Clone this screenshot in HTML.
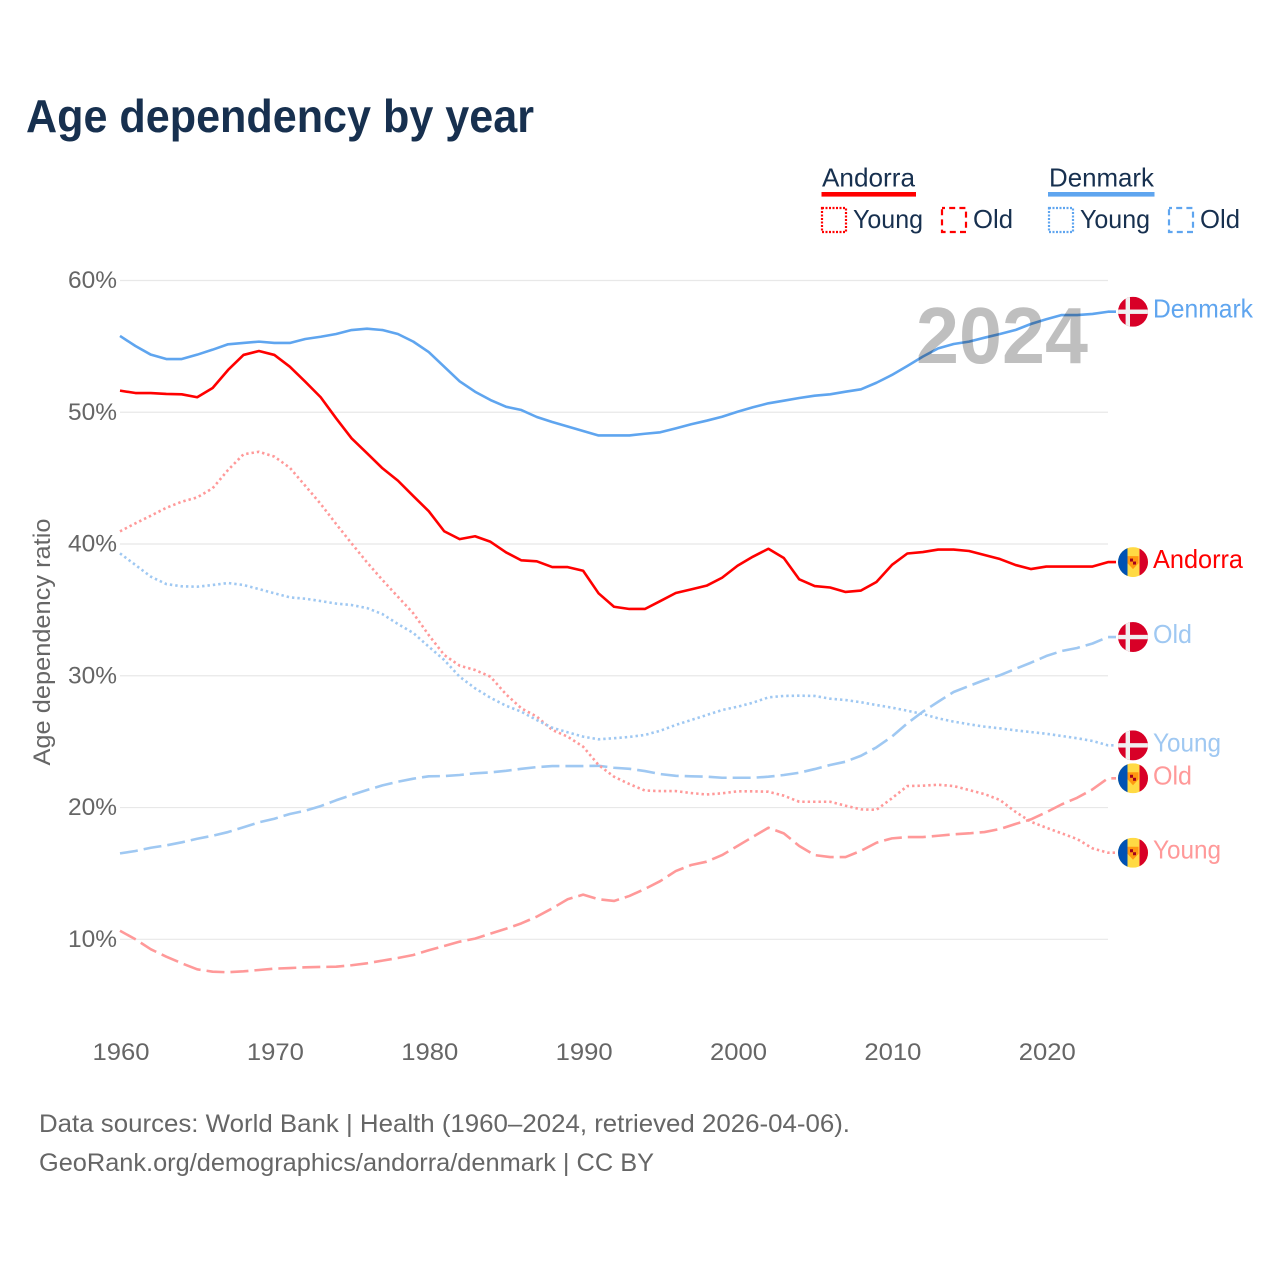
<!DOCTYPE html>
<html lang="en">
<head>
<meta charset="utf-8">
<title>Age dependency by year</title>
<style>
html,body{margin:0;padding:0;background:#fff;width:1280px;height:1280px;overflow:hidden}
svg{display:block}
text{font-family:"Liberation Sans",sans-serif}
</style>
</head>
<body>
<svg id="chart" xmlns="http://www.w3.org/2000/svg" width="1280" height="1280" viewBox="0 0 1280 1280">
  <rect width="1280" height="1280" fill="#fff"/>
  <text x="26" y="132" font-size="46" font-weight="700" fill="#17304f" textLength="508" lengthAdjust="spacingAndGlyphs">Age dependency by year</text>

  <g>
    <text x="822" y="186.5" font-size="26" fill="#17304f" textLength="93" lengthAdjust="spacingAndGlyphs">Andorra</text>
    <rect x="821.5" y="192" width="94.5" height="4.6" fill="#ff0000"/>
    <rect x="822" y="208" width="24" height="24" fill="none" stroke="#ff0000" stroke-width="2.2" stroke-dasharray="2 1.5"/>
    <text x="853" y="228" font-size="26" fill="#17304f" textLength="70" lengthAdjust="spacingAndGlyphs">Young</text>
    <rect x="942" y="208" width="24" height="24" fill="none" stroke="#ff0000" stroke-width="2.2" stroke-dasharray="6 4.2" stroke-dashoffset="3"/>
    <text x="973" y="228" font-size="26" fill="#17304f" textLength="40" lengthAdjust="spacingAndGlyphs">Old</text>
    <text x="1049" y="186.5" font-size="26" fill="#17304f" textLength="105" lengthAdjust="spacingAndGlyphs">Denmark</text>
    <rect x="1048" y="192" width="106.5" height="4.6" fill="#5fa5ef"/>
    <rect x="1049" y="208" width="24" height="24" fill="none" stroke="#5fa5ef" stroke-width="2.2" stroke-dasharray="2 1.5"/>
    <text x="1080" y="228" font-size="26" fill="#17304f" textLength="70" lengthAdjust="spacingAndGlyphs">Young</text>
    <rect x="1169" y="208" width="24" height="24" fill="none" stroke="#5fa5ef" stroke-width="2.2" stroke-dasharray="6 4.2" stroke-dashoffset="3"/>
    <text x="1200" y="228" font-size="26" fill="#17304f" textLength="40" lengthAdjust="spacingAndGlyphs">Old</text>
  </g>

  <g id="grid"></g>
  <g id="yticks"></g>
  <g id="xticks"></g>
  <text transform="translate(50,642) rotate(-90)" text-anchor="middle" font-size="24" fill="#666" textLength="247" lengthAdjust="spacingAndGlyphs">Age dependency ratio</text>

  <g id="series"></g>
  <g id="endlabels"></g>

  <text x="916" y="363" font-size="80" font-weight="700" fill="#000" fill-opacity="0.25" textLength="172" lengthAdjust="spacingAndGlyphs">2024</text>

  <text x="39" y="1132" font-size="25" fill="#666" textLength="811" lengthAdjust="spacingAndGlyphs">Data sources: World Bank | Health (1960–2024, retrieved 2026-04-06).</text>
  <text x="39" y="1171" font-size="25" fill="#666" textLength="615" lengthAdjust="spacingAndGlyphs">GeoRank.org/demographics/andorra/denmark | CC BY</text>
</svg>
<script>
const years = [1960,1961,1962,1963,1964,1965,1966,1967,1968,1969,1970,1971,1972,1973,1974,1975,1976,1977,1978,1979,1980,1981,1982,1983,1984,1985,1986,1987,1988,1989,1990,1991,1992,1993,1994,1995,1996,1997,1998,1999,2000,2001,2002,2003,2004,2005,2006,2007,2008,2009,2010,2011,2012,2013,2014,2015,2016,2017,2018,2019,2020,2021,2022,2023,2024];
const xTickYears = [1960,1970,1980,1990,2000,2010,2020];
const yTickValues = [10,20,30,40,50,60];

const denmarkTotal = [55.79,55.03,54.37,54.04,54.04,54.37,54.75,55.16,55.26,55.36,55.26,55.26,55.56,55.73,55.94,56.24,56.34,56.24,55.94,55.36,54.57,53.46,52.35,51.56,50.93,50.42,50.17,49.64,49.26,48.92,48.58,48.24,48.24,48.24,48.37,48.48,48.78,49.09,49.36,49.66,50.04,50.38,50.68,50.88,51.08,51.26,51.36,51.56,51.74,52.24,52.83,53.51,54.22,54.85,55.18,55.36,55.66,55.94,56.24,56.70,57.06,57.38,57.38,57.46,57.63];
const andorraTotal = [51.64,51.46,51.46,51.39,51.36,51.14,51.84,53.21,54.35,54.65,54.35,53.46,52.32,51.14,49.54,48.02,46.89,45.75,44.81,43.64,42.49,40.97,40.37,40.59,40.17,39.37,38.76,38.69,38.25,38.25,37.97,36.26,35.24,35.07,35.07,35.67,36.28,36.56,36.84,37.44,38.35,39.04,39.64,38.94,37.32,36.81,36.70,36.36,36.47,37.12,38.41,39.28,39.39,39.58,39.58,39.47,39.17,38.86,38.41,38.10,38.29,38.29,38.29,38.29,38.63];
const andorraYoung = [40.96,41.57,42.15,42.75,43.21,43.54,44.23,45.62,46.81,47.0,46.63,45.79,44.42,43.04,41.52,40.05,38.61,37.27,36.0,34.74,33.09,31.58,30.77,30.44,29.93,28.6,27.53,26.9,25.89,25.38,24.62,23.23,22.34,21.78,21.29,21.25,21.25,21.10,20.99,21.08,21.23,21.23,21.20,20.90,20.44,20.44,20.44,20.14,19.86,19.83,20.70,21.63,21.66,21.73,21.63,21.33,21.02,20.57,19.68,18.92,18.47,18.04,17.61,16.90,16.57];
const denmarkYoung = [39.29,38.41,37.52,36.96,36.79,36.76,36.89,37.04,36.89,36.58,36.26,35.95,35.85,35.67,35.48,35.37,35.14,34.68,33.93,33.25,32.21,31.2,29.93,29.05,28.33,27.73,27.27,26.64,26.06,25.71,25.38,25.18,25.26,25.36,25.51,25.83,26.27,26.64,27.02,27.40,27.65,27.96,28.36,28.47,28.49,28.47,28.26,28.16,27.99,27.78,27.58,27.35,27.10,26.77,26.52,26.32,26.14,26.01,25.86,25.73,25.60,25.43,25.26,25.05,24.72];
const denmarkOld = [16.52,16.70,16.95,17.13,17.36,17.63,17.86,18.14,18.50,18.88,19.15,19.51,19.76,20.11,20.55,20.95,21.33,21.68,21.96,22.19,22.37,22.39,22.47,22.60,22.67,22.79,22.94,23.07,23.15,23.15,23.15,23.17,23.02,22.94,22.77,22.54,22.41,22.37,22.34,22.26,22.26,22.26,22.34,22.47,22.64,22.92,23.23,23.48,23.93,24.57,25.38,26.39,27.27,28.03,28.77,29.23,29.68,30.04,30.52,30.99,31.50,31.88,32.11,32.45,32.94];
const andorraOld = [10.65,10,9.24,8.68,8.18,7.72,7.54,7.50,7.57,7.67,7.77,7.82,7.87,7.90,7.92,8.03,8.18,8.38,8.58,8.81,9.17,9.49,9.82,10.05,10.43,10.80,11.21,11.72,12.35,13.04,13.39,13.04,12.91,13.29,13.82,14.42,15.18,15.64,15.89,16.39,17.08,17.78,18.47,18.04,17.08,16.39,16.24,16.24,16.72,17.33,17.66,17.76,17.76,17.86,17.97,18.04,18.14,18.37,18.75,19.10,19.64,20.24,20.74,21.38,22.22];

const NS = 'http://www.w3.org/2000/svg';
const xScale = function (yr) { return 120 + (yr - 1960) * (988 / 64); };
const yScale = function (v) { return 280.5 + (60 - v) * 13.176; };

function mk(tag, attrs, parent) {
  const el = document.createElementNS(NS, tag);
  for (const k in attrs) el.setAttribute(k, attrs[k]);
  parent.appendChild(el);
  return el;
}

const gridG = document.getElementById('grid');
const yG = document.getElementById('yticks');
const xG = document.getElementById('xticks');

yTickValues.forEach(function (v) {
  const line = mk('line', {x1: 120, x2: 1108, y1: yScale(v), y2: yScale(v), stroke: '#e8e8e8', 'stroke-width': 1.2}, gridG);
  
  
  const t = mk('text', {x: 117, y: yScale(v) + 7.5, 'text-anchor': 'end', 'font-size': 24, fill: '#666', textLength: 49, lengthAdjust: 'spacingAndGlyphs'}, yG);
  
  
  t.textContent = v + '%';
});

xTickYears.forEach(function (yr) {
  const t = mk('text', {x: xScale(yr) + 1, y: 1060, 'text-anchor': 'middle', 'font-size': 24, fill: '#666', textLength: 57, lengthAdjust: 'spacingAndGlyphs'}, xG);
  
  
  t.textContent = yr;
});

const seriesG = document.getElementById('series');
function drawLine(values, color, dash, name) {
  let d = '';
  values.forEach(function (v, i) {
    d += (i ? 'L' : 'M') + xScale(years[i]).toFixed(2) + ' ' + yScale(v).toFixed(2);
  });
  const last = values[values.length - 1];
  d += 'L1116 ' + yScale(last).toFixed(2);
  const p = mk('path', {d: d, fill: 'none', stroke: color, 'stroke-width': 2.6, 'stroke-linejoin': 'round'}, seriesG);
  if (dash) p.setAttribute('stroke-dasharray', dash);
  
  
}
drawLine(andorraOld, '#ff9999', '18 6', 'line-andorra-old');
drawLine(denmarkOld, '#9fc8f2', '18 6', 'line-denmark-old');
drawLine(andorraYoung, '#ff9999', '2.4 3', 'line-andorra-young');
drawLine(denmarkYoung, '#9fc8f2', '2.4 3', 'line-denmark-young');
drawLine(denmarkTotal, '#5fa5ef', '', 'line-denmark-total');
drawLine(andorraTotal, '#ff0000', '', 'line-andorra-total');

const defs = mk('defs', {}, document.getElementById('chart'));
const labelsG = document.getElementById('endlabels');
let clipId = 0;

function drawFlag(country, cy, name) {
  clipId += 1;
  const cp = mk('clipPath', {id: 'flag-clip-' + clipId}, defs);
  mk('circle', {cx: 1133, cy: cy, r: 15}, cp);
  const g = mk('g', {'clip-path': 'url(#flag-clip-' + clipId + ')'}, labelsG);
  
  
  if (country === 'DK') {
    mk('rect', {x: 1118, y: cy - 15, width: 30, height: 30, fill: '#d80027'}, g);
    mk('rect', {x: 1125.6, y: cy - 15, width: 4.4, height: 30, fill: '#f0f0f0'}, g);
    mk('rect', {x: 1118, y: cy - 2.2, width: 30, height: 4.4, fill: '#f0f0f0'}, g);
  } else {
    mk('rect', {x: 1118, y: cy - 15, width: 30, height: 30, fill: '#ffda44'}, g);
    mk('rect', {x: 1118, y: cy - 15, width: 9.5, height: 30, fill: '#0052b4'}, g);
    mk('rect', {x: 1139.5, y: cy - 15, width: 9, height: 30, fill: '#d80027'}, g);
    mk('path', {d: 'M1127.5 ' + (cy - 6) + 'h11v7l-5.5 6l-5.5-6z', fill: '#ff9811'}, g);
    mk('rect', {x: 1130, y: cy - 3.5, width: 3, height: 3, fill: '#a2001d'}, g);
    mk('rect', {x: 1133, y: cy - 0.5, width: 3, height: 3, fill: '#a2001d'}, g);
  }
}

function drawEndLabel(text, color, values, country, width, key) {
  const cy = yScale(values[values.length - 1]);
  drawFlag(country, cy, 'flag-' + key);
  const t = mk('text', {x: 1153, y: cy + 6, 'font-size': 26, fill: color, textLength: width, lengthAdjust: 'spacingAndGlyphs'}, labelsG);
  
  
  t.textContent = text;
}
drawEndLabel('Denmark', '#5fa5ef', denmarkTotal, 'DK', 100, 'denmark-total');
drawEndLabel('Andorra', '#ff0000', andorraTotal, 'AD', 90, 'andorra-total');
drawEndLabel('Old', '#9fc8f2', denmarkOld, 'DK', 39, 'denmark-old');
drawEndLabel('Young', '#9fc8f2', denmarkYoung, 'DK', 68, 'denmark-young');
drawEndLabel('Old', '#ff9999', andorraOld, 'AD', 39, 'andorra-old');
drawEndLabel('Young', '#ff9999', andorraYoung, 'AD', 68, 'andorra-young');
</script>
</body>
</html>
